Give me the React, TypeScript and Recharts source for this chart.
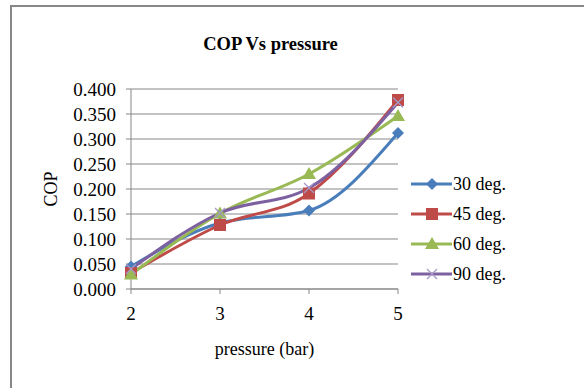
import { LineChart, Line, XAxis, YAxis, CartesianGrid, Legend, Label } from "recharts";

const pressures = [2, 3, 4, 5];
const cop30 = [0.045, 0.132, 0.157, 0.312];
const cop45 = [0.032, 0.128, 0.191, 0.378];
const cop60 = [0.029, 0.151, 0.23, 0.346];
const cop90 = [0.04, 0.152, 0.202, 0.373];
const seriesNames = ["30 deg.", "45 deg.", "60 deg.", "90 deg."];
const yTicks = [0, 0.05, 0.1, 0.15, 0.2, 0.25, 0.3, 0.35, 0.4];

const FONT = '"Liberation Serif", "DejaVu Serif", serif';
const AXIS = "#878787";

type Kind = "diamond" | "square" | "triangle" | "x";

const series: { key: string; name: string; color: string; marker: Kind }[] = [
  { key: "d30", name: seriesNames[0], color: "#4A7EBB", marker: "diamond" },
  { key: "d45", name: seriesNames[1], color: "#BE4B48", marker: "square" },
  { key: "d60", name: seriesNames[2], color: "#98B954", marker: "triangle" },
  { key: "d90", name: seriesNames[3], color: "#7D60A0", marker: "x" },
];

const data = pressures.map((p, i) => ({
  p,
  d30: cop30[i],
  d45: cop45[i],
  d60: cop60[i],
  d90: cop90[i],
}));

function Marker({ cx, cy, kind, color }: { cx: number; cy: number; kind: Kind; color: string }) {
  if (kind === "diamond")
    return <path d={`M${cx},${cy - 6}L${cx + 6},${cy}L${cx},${cy + 6}L${cx - 6},${cy}Z`} fill={color} />;
  if (kind === "square") return <rect x={cx - 6} y={cy - 6} width={12} height={12} fill={color} />;
  if (kind === "triangle")
    return <path d={`M${cx},${cy - 7}L${cx + 7},${cy + 5}L${cx - 7},${cy + 5}Z`} fill={color} />;
  return (
    <path
      d={`M${cx - 5},${cy - 5}L${cx + 5},${cy + 5}M${cx + 5},${cy - 5}L${cx - 5},${cy + 5}`}
      stroke="#A598C8"
      strokeWidth={1.3}
      fill="none"
    />
  );
}

function LegendBox() {
  return (
    <div style={{ fontFamily: FONT, fontSize: 18, color: "#000" }}>
      {series.map((s) => (
        <div key={s.key} style={{ display: "flex", alignItems: "center", height: 30 }}>
          <svg width={42} height={16}>
            <line x1={0} y1={8} x2={41} y2={8} stroke={s.color} strokeWidth={3} />
            <Marker cx={21} cy={8} kind={s.marker} color={s.color} />
          </svg>
          <span>{s.name}</span>
        </div>
      ))}
    </div>
  );
}

const tickStyle = { fill: "#000", fontFamily: FONT, fontSize: 19 };
const labelStyle = { fill: "#000", fontFamily: FONT, fontSize: 18 };

export default function App() {
  return (
    <div
      style={{
        position: "absolute",
        left: 0,
        top: 0,
        width: 584,
        height: 388,
        overflow: "hidden",
        background: "#fff",
        fontFamily: FONT,
      }}
    >
      <div
        style={{
          position: "absolute",
          left: 10,
          top: 5,
          width: 620,
          height: 420,
          borderLeft: `2px solid ${AXIS}`,
          borderTop: `2px solid ${AXIS}`,
        }}
      />
      <div
        style={{
          position: "absolute",
          left: 0,
          top: 34,
          width: 541,
          textAlign: "center",
          fontSize: 18.5,
          fontWeight: "bold",
          lineHeight: "20px",
        }}
      >
        COP Vs pressure
      </div>
      <LineChart
        width={584}
        height={388}
        data={data}
        margin={{ top: 89, right: 186, bottom: 0, left: 0 }}
        style={{ position: "absolute", left: 0, top: 0, fontFamily: FONT }}
      >
        <CartesianGrid vertical={false} stroke={AXIS} strokeWidth={1} />
        <XAxis dataKey="p" height={99} stroke={AXIS} tickSize={5} tickMargin={13} tick={tickStyle}>
          <Label value="pressure (bar)" position="center" dy={10} style={labelStyle} />
        </XAxis>
        <YAxis
          width={131}
          domain={[0, 0.4]}
          ticks={yTicks}
          interval={0}
          stroke={AXIS}
          tickSize={5}
          tickMargin={10}
          tickFormatter={(v: number) => v.toFixed(3)}
          tick={tickStyle}
        >
          <Label value="COP" angle={-90} position="center" dx={-15} style={labelStyle} />
        </YAxis>
        <Legend
          layout="vertical"
          align="center"
          verticalAlign="middle"
          wrapperStyle={{ left: 411, top: 169, width: 130 }}
          content={() => <LegendBox />}
        />
        {series.map((s) => (
          <Line
            key={s.key}
            dataKey={s.key}
            name={s.name}
            type="monotone"
            stroke={s.color}
            strokeWidth={3}
            isAnimationActive={false}
            dot={(props: any) => (
              <Marker key={`${s.key}-${props.index}`} cx={props.cx} cy={props.cy} kind={s.marker} color={s.color} />
            )}
            activeDot={false}
          />
        ))}
      </LineChart>
    </div>
  );
}
